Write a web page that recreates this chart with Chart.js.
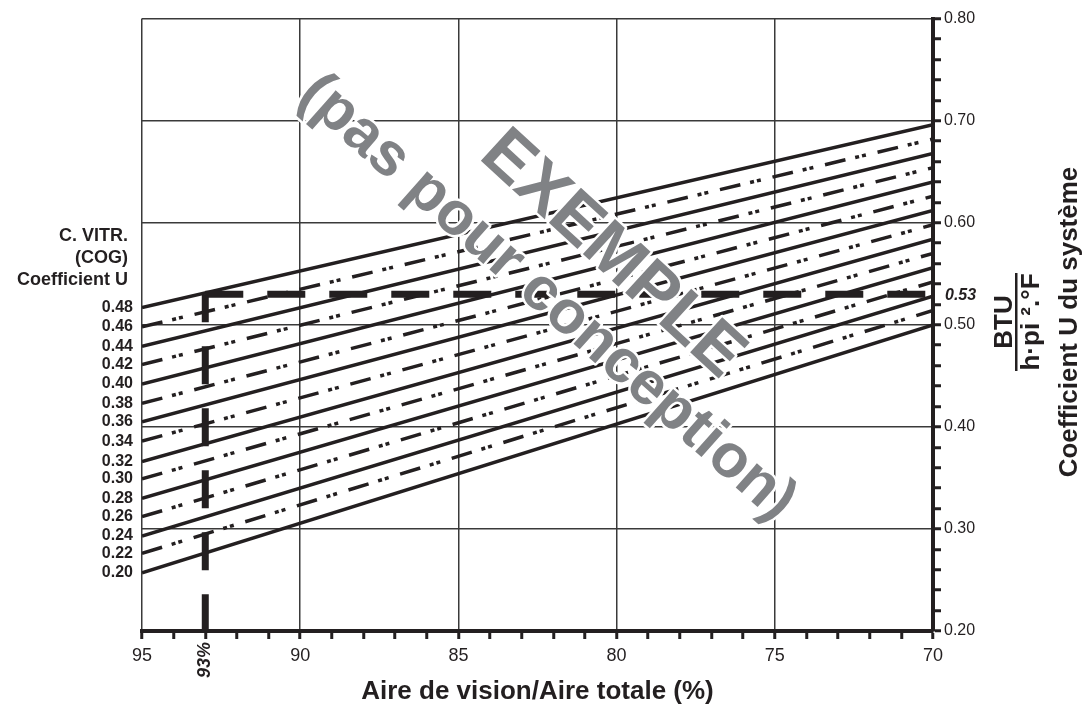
<!DOCTYPE html>
<html>
<head>
<meta charset="utf-8">
<script src="https://cdn.jsdelivr.net/npm/chart.js@4.4.1/dist/chart.umd.min.js"></script>
<style>
  html, body { margin: 0; padding: 0; background: #fff; }
  #chart { display: block; }
</style>
</head>
<body>
<canvas id="chart" width="1091" height="707"></canvas>
<script>
// glass (COG) U-value labels, top to bottom
const cogLabels = ['0.48', '0.46', '0.44', '0.42', '0.40', '0.38', '0.36', '0.34', '0.32', '0.30', '0.28', '0.26', '0.24', '0.22', '0.20'];
// system U read at 95% and at 70% vision area
const uAt95 = [0.517, 0.498, 0.479, 0.461, 0.442, 0.423, 0.405, 0.386, 0.366, 0.349, 0.330, 0.312, 0.293, 0.276, 0.257];
const uAt70 = [0.696, 0.682, 0.668, 0.654, 0.640, 0.626, 0.612, 0.598, 0.584, 0.570, 0.556, 0.542, 0.528, 0.514, 0.500];
const visionEnds = [95, 70];
// worked example
const exampleVision = 93;
const exampleU = 0.53;
const exampleBottomU = 0.20;

const INK = '#231f20';
const FONT = '"Liberation Sans", Arial, Helvetica, sans-serif';

const datasets = [];

datasets.push({
    label: 'exemple horizontal',
    data: [{ x: exampleVision, y: exampleU }, { x: visionEnds[1], y: exampleU }],
    borderColor: INK,
    borderWidth: 7,
    borderDash: [38, 24],
    borderCapStyle: 'butt',
    pointRadius: 0
});
datasets.push({
    label: 'exemple vertical',
    data: [{ x: exampleVision, y: exampleU }, { x: exampleVision, y: exampleBottomU }],
    borderColor: INK,
    borderWidth: 7,
    borderDash: [38, 24],
    borderDashOffset: 10,
    borderCapStyle: 'butt',
    pointRadius: 0
});

cogLabels.forEach((lab, i) => {
    datasets.push({
        label: 'COG ' + lab,
        data: [{ x: visionEnds[0], y: uAt95[i] }, { x: visionEnds[1], y: uAt70[i] }],
        borderColor: INK,
        borderWidth: 3.5,
        borderDash: i % 2 ? [21, 10, 4, 3, 4, 12] : [],
        borderCapStyle: 'butt',
        pointRadius: 0,
        tension: 0
    });
});

const textPlugin = {
    id: 'texts',
    afterDraw(chart) {
        const ctx = chart.ctx;
        const ys = chart.scales.y;
        const xs = chart.scales.x;
        ctx.save();
        ctx.fillStyle = INK;

        // left header
        ctx.font = 'bold 18px ' + FONT;
        ctx.textAlign = 'right';
        ctx.textBaseline = 'middle';
        ctx.fillText('C. VITR.', 128, 236);
        ctx.fillText('(COG)', 128, 258);
        ctx.fillText('Coefficient U', 128, 280);

        // 0.53 on the right
        ctx.font = 'italic bold 16px ' + FONT;
        ctx.textAlign = 'left';
        ctx.fillText('0.53', 945, ys.getPixelForValue(exampleU) + 1);

        // 93% under the axis
        ctx.save();
        ctx.translate(xs.getPixelForValue(exampleVision), 660);
        ctx.rotate(-Math.PI / 2);
        ctx.font = 'italic bold 18px ' + FONT;
        ctx.textAlign = 'center';
        ctx.fillText('93%', 0, 0);
        ctx.restore();

        // unit fraction and right title
        ctx.save();
        ctx.translate(0, 322);
        ctx.rotate(-Math.PI / 2);
        ctx.textAlign = 'center';
        ctx.textBaseline = 'alphabetic';
        ctx.font = 'bold 26px ' + FONT;
        ctx.fillText('BTU', 0, 1012);
        ctx.fillRect(-49, 1015, 98, 2.5);
        ctx.fillText('h\u00b7pi \u00b2.\u00b0F', 0, 1039);
        ctx.fillText('Coefficient U du syst\u00e8me', 0, 1077);
        ctx.restore();

        // watermark
        const mark = (txt, cx, cy, ang, size) => {
            ctx.save();
            ctx.translate(cx, cy);
            ctx.rotate(ang * Math.PI / 180);
            ctx.font = 'bold ' + size + 'px ' + FONT;
            ctx.textAlign = 'center';
            ctx.textBaseline = 'middle';
            ctx.lineJoin = 'round';
            ctx.strokeStyle = '#ffffff';
            ctx.lineWidth = 5;
            ctx.strokeText(txt, 0, 0);
            ctx.fillStyle = '#808285';
            ctx.fillText(txt, 0, 0);
            ctx.restore();
        };
        mark('EXEMPLE', 612, 255, 42.5, 69);
        mark('(pas pour conception)', 547, 298, 41.5, 61);

        ctx.restore();
    }
};

new Chart(document.getElementById('chart'), {
    type: 'line',
    data: { datasets: datasets },
    options: {
        responsive: false,
        animation: false,
        devicePixelRatio: 1,
        layout: { padding: { top: 15, left: 0, right: 0, bottom: 0 } },
        plugins: { legend: { display: false }, tooltip: { enabled: false } },
        scales: {
            x: {
                type: 'linear',
                position: 'bottom',
                reverse: true,
                min: 70,
                max: 95,
                afterBuildTicks: s => {
                    const t = [];
                    for (let v = 70; v <= 95; v++) t.push({ value: v });
                    s.ticks = t;
                },
                ticks: {
                    autoSkip: false,
                    maxRotation: 0,
                    padding: 6,
                    color: INK,
                    font: { family: FONT, size: 18 },
                    callback: v => (v % 5 === 0 ? String(v) : '')
                },
                grid: {
                    color: c => (c.tick && c.tick.value % 5 === 0 ? '#3a3a3a' : 'rgba(0,0,0,0)'),
                    lineWidth: 1.5,
                    tickColor: INK,
                    tickLength: 8,
                    tickWidth: 3
                },
                border: { color: INK, width: 4 },
                title: {
                    display: true,
                    text: 'Aire de vision/Aire totale (%)',
                    color: INK,
                    font: { family: FONT, size: 26, weight: 'bold' },
                    padding: { top: 0, bottom: 0 }
                },
                afterFit: s => { s.height = 76; }
            },
            y: {
                type: 'linear',
                position: 'right',
                min: 0.2,
                max: 0.8,
                afterBuildTicks: s => {
                    const t = [];
                    for (let k = 10; k <= 40; k++) t.push({ value: k / 50 });
                    s.ticks = t;
                },
                ticks: {
                    autoSkip: false,
                    padding: 3,
                    color: INK,
                    font: { family: FONT, size: 16 },
                    callback: v => (Math.round(v * 100) % 10 === 0 ? v.toFixed(2) : '')
                },
                grid: {
                    color: c => (c.tick && Math.round(c.tick.value * 100) % 10 === 0 ? '#3a3a3a' : 'rgba(0,0,0,0)'),
                    lineWidth: 1.5,
                    tickColor: INK,
                    tickLength: 8,
                    tickWidth: 3
                },
                border: { color: INK, width: 4 },
                afterFit: s => { s.width = 158; }
            },
            yl: {
                type: 'linear',
                position: 'left',
                min: 0.2,
                max: 0.8,
                afterBuildTicks: s => {
                    s.ticks = uAt95.map(v => ({ value: v }));
                },
                ticks: {
                    autoSkip: false,
                    padding: 9,
                    color: INK,
                    font: { family: FONT, size: 16, weight: 'bold' },
                    callback: (v, i) => cogLabels[i]
                },
                grid: { drawOnChartArea: false, drawTicks: false },
                border: { display: false },
                afterFit: s => { s.width = 142; }
            }
        }
    },
    plugins: [textPlugin]
});
</script>
</body>
</html>
